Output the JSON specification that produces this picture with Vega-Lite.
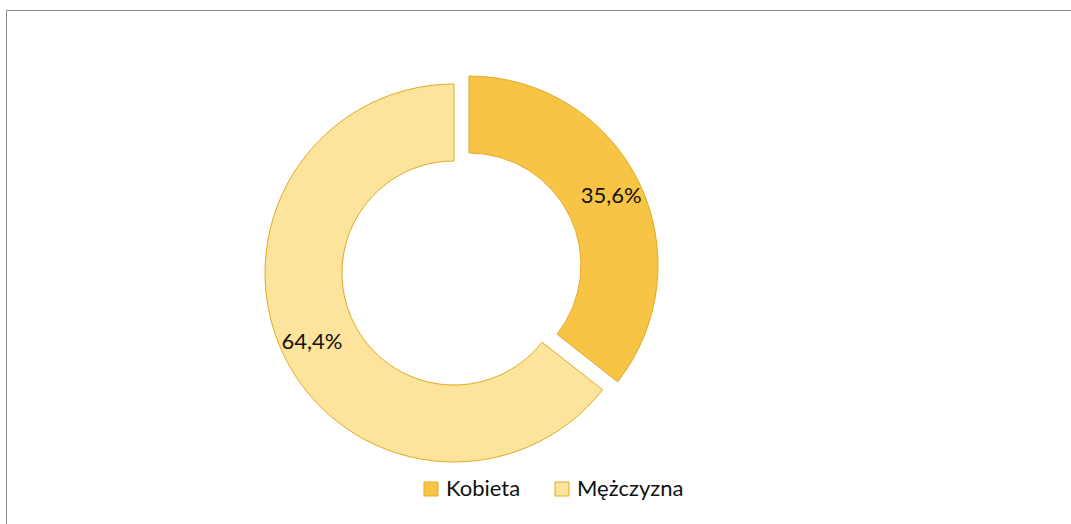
{
  "$schema": "https://vega.github.io/schema/vega-lite/v6.json",
  "autosize": "none",
  "padding": {"left": 6, "top": 10, "right": 0, "bottom": 0},
  "width": 1100,
  "height": 526,
  "background": "white",
  "view": {"stroke": "#8a8a8a", "strokeWidth": 1, "fill": "white"},
  "config": {
    "font": "Lato"
  },
  "data": {
    "values": [
      {"plec": "Kobieta", "udzial": 35.6, "etykieta": "35,6%"},
      {"plec": "Mężczyzna", "udzial": 64.4, "etykieta": "64,4%"}
    ]
  },
  "encoding": {
    "theta": {"field": "udzial", "type": "quantitative", "stack": true},
    "order": {"field": "udzial", "type": "quantitative", "sort": "ascending"}
  },
  "layer": [
    {
      "mark": {
        "type": "arc",
        "outerRadius": 189,
        "innerRadius": 112,
        "stroke": "#E3A923",
        "strokeWidth": 1,
        "x": {"expr": "width/2 - 102 + (datum.plec === 'Kobieta' ? 15 : 0)"},
        "y": {"expr": "height/2 + (datum.plec === 'Kobieta' ? -8 : 0)"}
      },
      "encoding": {
        "color": {
          "field": "plec",
          "type": "nominal",
          "sort": ["Kobieta", "Mężczyzna"],
          "scale": {"domain": ["Kobieta", "Mężczyzna"], "range": ["#F7C445", "#FDE49C"]},
          "legend": {
            "title": null,
            "orient": "none",
            "direction": "horizontal",
            "legendX": 414,
            "legendY": 468,
            "symbolType": "square",
            "symbolSize": 196,
            "symbolStrokeColor": "#E3A923",
            "symbolStrokeWidth": 1,
            "symbolOpacity": 1,
            "labelFont": "Lato",
            "labelFontSize": 22,
            "labelColor": "#111111",
            "labelOffset": 4,
            "columnPadding": 30
          }
        }
      }
    },
    {
      "mark": {
        "type": "text",
        "radius": 158,
        "font": "Lato",
        "fontSize": 22,
        "color": "#111111",
        "x": {"expr": "width/2 - 102 + (datum.plec === 'Kobieta' ? 15 : 0)"},
        "y": {"expr": "height/2 + (datum.plec === 'Kobieta' ? -8 : 0)"}
      },
      "encoding": {
        "text": {"field": "etykieta", "type": "nominal"}
      }
    }
  ]
}
